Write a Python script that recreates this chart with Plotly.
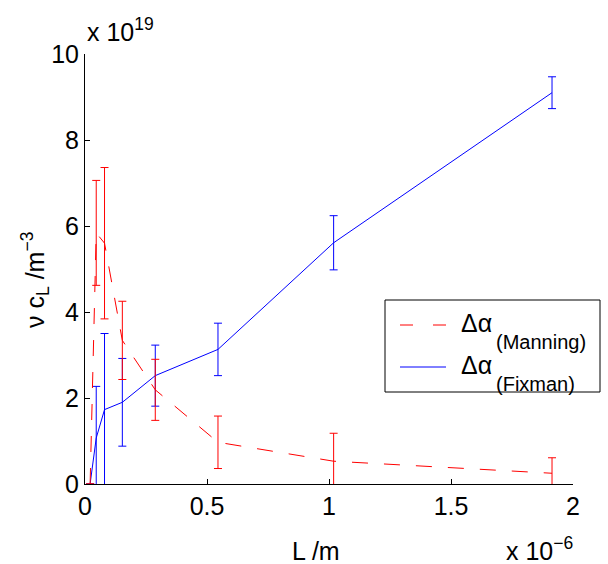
import plotly.graph_objects as go

# Chain length L (units of 1e-6 m) and number density nu*c_L (units of 1e19 m^-3)
length_um = [0.021, 0.046, 0.080, 0.153, 0.288, 0.545, 1.019, 1.914]
manning = [0.0, 5.84, 5.60, 3.34, 2.19, 0.97, 0.53, 0.25]
manning_err = [0.0, 1.22, 1.76, 0.91, 0.71, 0.61, 0.65, 0.36]
fixman = [0.0, 1.07, 1.73, 1.90, 2.52, 3.13, 5.61, 9.10]
fixman_err = [0.0, 1.20, 1.77, 1.02, 0.71, 0.61, 0.63, 0.37]

series_symbol = "Δα"
series_subs = ["(Manning)", "(Fixman)"]

x_ticks = [0, 0.5, 1, 1.5, 2]
x_ticklabels = ["0", "0.5", "1", "1.5", "2"]
y_ticks = [0, 2, 4, 6, 8, 10]
y_ticklabels = ["0", "2", "4", "6", "8", "10"]

FONT = "Liberation Sans, Arial, Helvetica, sans-serif"
FS = 25
SUB_FS = 20
RED = "#FF0000"
BLUE = "#0000FF"
RED_DASH = "16px,16px"

# figure geometry (pixels)
W, H = 608, 564
ML, MR, MT, MB = 85, 35, 54, 80
PW, PH = W - ML - MR, H - MT - MB


def px_x(p):
    """Horizontal page pixel -> paper coordinate."""
    return (p - ML) / PW


def px_y(p):
    """Vertical page pixel -> paper coordinate."""
    return (H - MB - p) / PH


fig = go.Figure()

# blue first so the red error bars sit on top
fig.add_trace(go.Scatter(
    x=length_um, y=fixman, mode="lines",
    name=series_symbol + series_subs[1], showlegend=False,
    line=dict(color=BLUE, width=1),
    error_y=dict(type="data", array=fixman_err, visible=True,
                 color=BLUE, thickness=1, width=4),
))
fig.add_trace(go.Scatter(
    x=length_um, y=manning, mode="lines",
    name=series_symbol + series_subs[0], showlegend=False,
    line=dict(color=RED, width=1, dash=RED_DASH),
    error_y=dict(type="data", array=manning_err, visible=True,
                 color=RED, thickness=1, width=4),
))

axis_common = dict(
    showgrid=False, zeroline=False, showline=True, linecolor="black",
    linewidth=1, ticks="inside", ticklen=5, tickcolor="black",
    tickwidth=1, mirror=False,
    tickfont=dict(family=FONT, size=FS, color="black"),
)
fig.update_xaxes(range=[0, 2], tickvals=x_ticks, ticktext=x_ticklabels,
                 **axis_common)
fig.update_yaxes(range=[0, 10], tickvals=y_ticks, ticktext=y_ticklabels,
                 **axis_common)

# legend: framed box, line samples and labels
row_y = [325, 367]
shapes = [
    dict(type="rect", xref="paper", yref="paper",
         x0=px_x(385), x1=px_x(600), y0=px_y(392), y1=px_y(300),
         line=dict(color="black", width=1), fillcolor="white"),
    dict(type="line", xref="paper", yref="paper",
         x0=px_x(400), x1=px_x(446), y0=px_y(row_y[0]), y1=px_y(row_y[0]),
         line=dict(color=RED, width=1, dash="13px,20px")),
    dict(type="line", xref="paper", yref="paper",
         x0=px_x(400), x1=px_x(446), y0=px_y(row_y[1]), y1=px_y(row_y[1]),
         line=dict(color=BLUE, width=1)),
]

txt = dict(family=FONT, size=FS, color="black")
sub_txt = dict(family=FONT, size=SUB_FS, color="black")
annotations = [
    # axis multipliers
    dict(text="x 10<sup>19</sup>", xref="paper", yref="paper",
         x=px_x(85), y=px_y(30), xanchor="left", yanchor="middle",
         showarrow=False, font=txt),
    dict(text="x 10<sup>−6</sup>", xref="paper", yref="paper",
         x=px_x(575), y=px_y(549), xanchor="right", yanchor="middle",
         showarrow=False, font=txt),
    # axis titles
    dict(text="L /m", xref="paper", yref="paper",
         x=px_x(316), y=px_y(551), xanchor="center", yanchor="middle",
         showarrow=False, font=txt),
    dict(text="ν c<sub>L</sub> /m<sup>−3</sup>", xref="paper",
         yref="paper", x=px_x(35), y=px_y(280), xanchor="center",
         yanchor="middle", textangle=-90, showarrow=False, font=txt),
]
for i, ry in enumerate(row_y):
    annotations.append(dict(
        text=series_symbol, xref="paper", yref="paper",
        x=px_x(459), y=px_y(ry - 2), xanchor="left", yanchor="middle",
        showarrow=False, font=txt))
    annotations.append(dict(
        text=series_subs[i], xref="paper", yref="paper",
        x=px_x(494), y=px_y(ry + 17), xanchor="left", yanchor="middle",
        showarrow=False, font=sub_txt))

fig.update_layout(
    width=W, height=H,
    margin=dict(l=ML, r=MR, t=MT, b=MB),
    paper_bgcolor="white", plot_bgcolor="white",
    font=txt, showlegend=False,
    shapes=shapes, annotations=annotations,
)

fig.write_html("out.html")
